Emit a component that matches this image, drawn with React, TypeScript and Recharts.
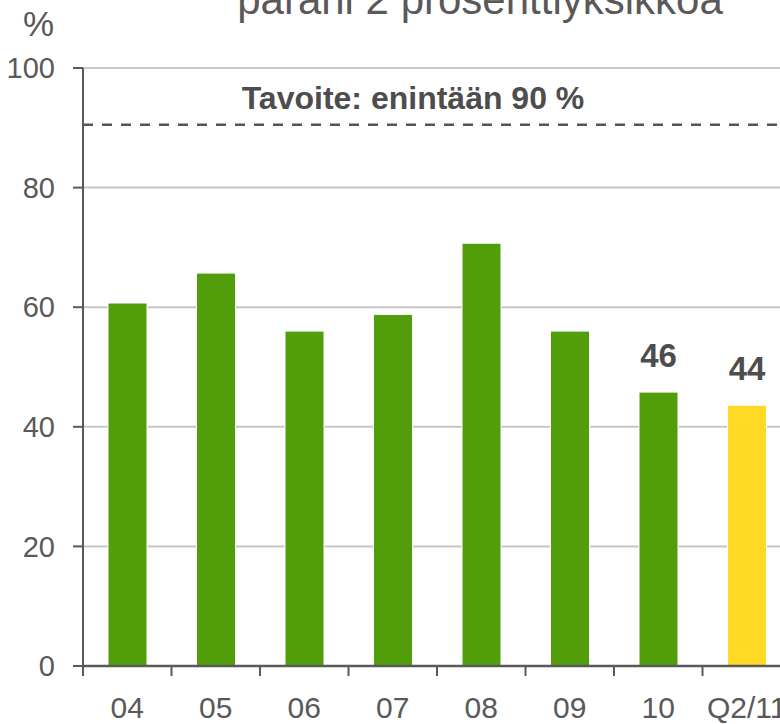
import { BarChart, Bar, XAxis, YAxis, CartesianGrid, ReferenceLine, LabelList, Cell } from "recharts";

const years = ["04", "05", "06", "07", "08", "09", "10", "Q2/11"];
const values = [60.7, 65.7, 56, 58.8, 70.7, 56, 45.8, 43.6];
const valueLabels = ["", "", "", "", "", "", "46", "44"];
const yTicks = [0, 20, 40, 60, 80, 100];
const target = 90.5;

const GREEN = "#519E0A";
const YELLOW = "#FFD923";
const AXIS = "#595959";
const FONT = "'Liberation Sans', Arial, sans-serif";
const TICK_MARGIN = 31;

const data = years.map((y, i) => ({ year: y, value: values[i], label: valueLabels[i] }));

const TargetLabel = ({ viewBox }: any) => {
  if (!viewBox) return null;
  return (
    <text x={viewBox.x + viewBox.width / 2 - 24} y={viewBox.y - 16} textAnchor="middle"
      fill="#4D4D4D" fontSize={32} fontWeight="bold" fontFamily={FONT}>
      Tavoite: enintään 90 %
    </text>
  );
};

// tick mark sits on the left edge of each category band, label in the middle
const CategoryTick = ({ x, y, payload }: any) => {
  const half = payload?.offset ?? 0;
  const axisY = y - TICK_MARGIN;
  return (
    <g>
      <line x1={x - half} x2={x - half} y1={axisY} y2={axisY + 10} stroke={AXIS} strokeWidth={2} />
      <text x={x} y={y} dy="0.71em" textAnchor="middle" fill={AXIS} fontSize={30} fontFamily={FONT}>
        {payload.value}
      </text>
    </g>
  );
};

export default function App() {
  return (
    <div style={{ position: "absolute", left: 0, top: 0, width: 780, height: 724, overflow: "hidden", background: "#fff", fontFamily: FONT }}>
      <div style={{ position: "absolute", left: 0, width: 960, top: -24, textAlign: "center", fontSize: 42, color: AXIS, whiteSpace: "nowrap" }}>
        parani 2 prosenttiyksikköä
      </div>
      <div style={{ position: "absolute", left: 23, top: 4, fontSize: 35, color: AXIS }}>%</div>
      <div style={{ position: "absolute", left: 0, top: 0 }}>
        <BarChart width={800} height={724} data={data} margin={{ top: 68, right: 9, left: 0, bottom: 0 }}>
          <CartesianGrid vertical={false} stroke="#C6C6C6" strokeWidth={2} />
          <XAxis dataKey="year" interval={0} height={58} tickLine={false} tickSize={0}
            tickMargin={TICK_MARGIN} axisLine={{ stroke: AXIS, strokeWidth: 2.5 }} tick={<CategoryTick />} />
          <YAxis domain={[0, 100]} ticks={yTicks} width={83} tickSize={10} tickMargin={18}
            axisLine={{ stroke: AXIS, strokeWidth: 2 }} tickLine={{ stroke: AXIS, strokeWidth: 2 }}
            tick={{ fill: AXIS, fontSize: 29, fontFamily: FONT }} />
          <ReferenceLine y={target} stroke="#555" strokeWidth={2.5} strokeDasharray="10 9"
            label={<TargetLabel />} />
          <Bar dataKey="value" barSize={39} stroke="#fff" strokeWidth={1} isAnimationActive={false}>
            {data.map((d, i) => (
              <Cell key={d.year} fill={i === data.length - 1 ? YELLOW : GREEN} />
            ))}
            <LabelList dataKey="label" position="top" offset={25} fill="#4D4D4D" fontSize={33}
              fontWeight="bold" fontFamily={FONT} />
          </Bar>
        </BarChart>
      </div>
    </div>
  );
}
